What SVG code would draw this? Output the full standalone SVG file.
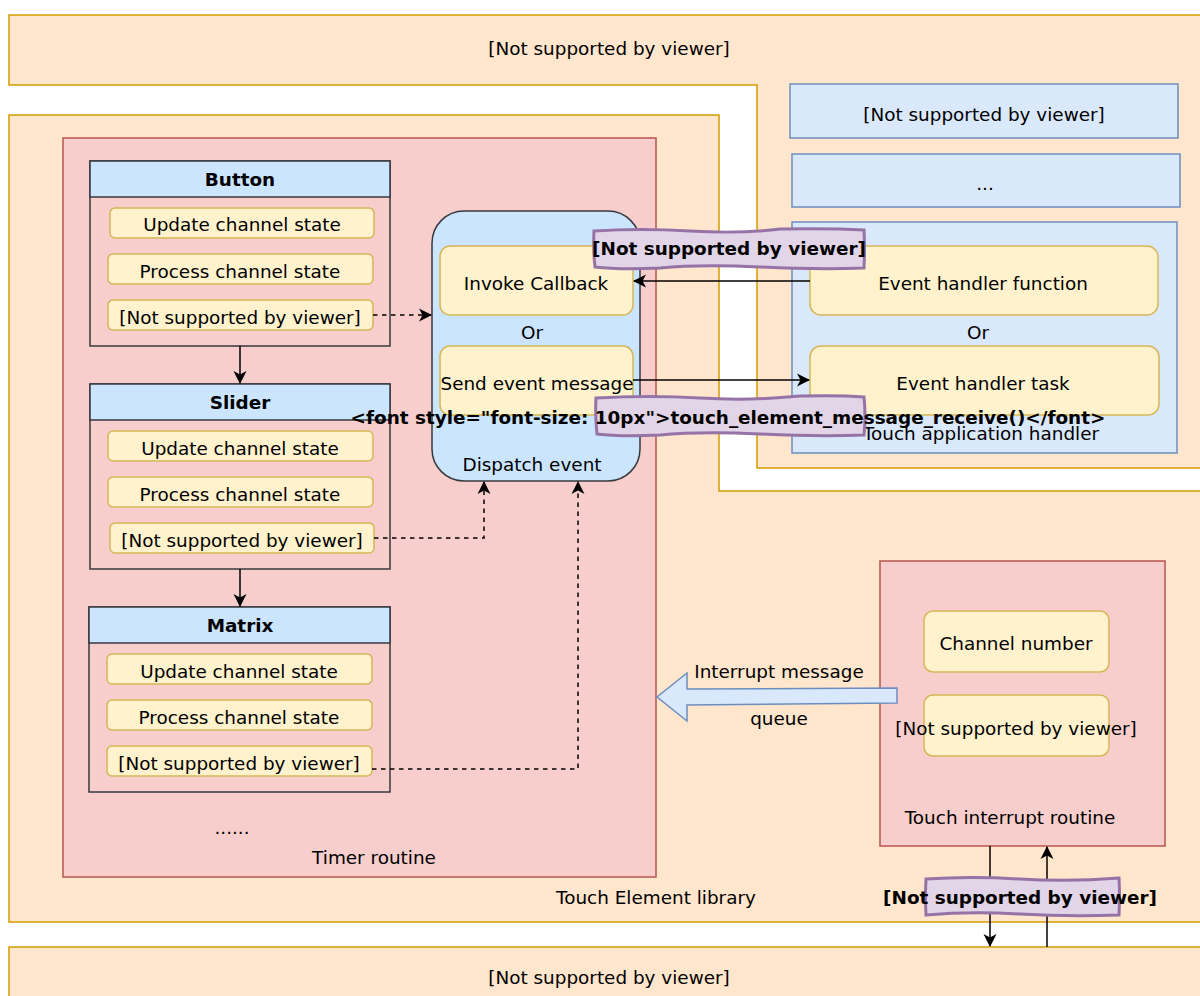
<svg xmlns="http://www.w3.org/2000/svg" width="1200" height="996" viewBox="0 0 1200 996">
<defs>
<style>
text{font-family:"DejaVu Sans","Liberation Sans",sans-serif;font-size:18.4px;fill:#000;text-anchor:middle;dominant-baseline:central}
.b{font-weight:bold}
.org{fill:#ffe6cc;stroke:#d79b00;stroke-width:1.5}
.pink{fill:#f8cecc;stroke:#b85450;stroke-width:1.5}
.lane{fill:none;stroke:#36393d;stroke-width:1.5}
.hdr{fill:#cce5ff;stroke:#36393d;stroke-width:1.5}
.yel{fill:#fff2cc;stroke:#d6b656;stroke-width:1.5}
.lb{fill:#dae8fc;stroke:#6c8ebf;stroke-width:1.5}
.pur{fill:#e1d5e7;stroke:#9673a6;stroke-width:3}
.ln{fill:none;stroke:#000;stroke-width:1.5}
.dash{stroke-dasharray:4.5 4.5}
</style>
<marker id="ah" viewBox="0 0 13 14" refX="12" refY="7" markerWidth="13" markerHeight="14" markerUnits="userSpaceOnUse" orient="auto">
<path d="M0,0.5 L13,7 L0,13.5 L3.5,7 Z" fill="#000"/>
</marker>
</defs>

<g id="app-layer">
<path class="org" d="M9,15 L1202,15 L1202,468 L757,468 L757,85 L9,85 Z"/>
<text x="609" y="48">[Not supported by viewer]</text>
</g>

<g id="touch-element-library">
<path class="org" d="M9,115 L719,115 L719,491 L1202,491 L1202,922 L9,922 Z"/>
<text x="656" y="897">Touch Element library</text>
</g>

<g id="bottom-layer">
<rect class="org" x="9" y="947" width="1193" height="52"/>
<text x="609" y="977">[Not supported by viewer]</text>
</g>

<g id="app-box-1">
<rect class="lb" x="790" y="84" width="388" height="54"/>
<text x="984" y="114">[Not supported by viewer]</text>
</g>
<g id="app-box-2">
<rect class="lb" x="792" y="154" width="388" height="53"/>
<text x="985" y="183">...</text>
</g>
<g id="touch-app-handler">
<rect class="lb" x="792" y="222" width="385" height="231"/>
<text x="981" y="433">Touch application handler</text>
</g>
<g id="event-handler-function">
<rect class="yel" x="810" y="246" width="348" height="69" rx="11"/>
<text x="983" y="283">Event handler function</text>
</g>
<g id="or-right"><text x="978" y="332">Or</text></g>
<g id="event-handler-task">
<rect class="yel" x="810" y="346" width="349" height="69" rx="11"/>
<text x="983" y="383">Event handler task</text>
</g>

<g id="timer-routine">
<rect class="pink" x="63" y="138" width="593" height="739"/>
<text x="374" y="857">Timer routine</text>
<text x="232" y="827">......</text>
</g>

<g id="button">
<rect class="lane" x="90" y="161" width="300" height="185"/>
<rect class="hdr" x="90" y="161" width="300" height="36"/>
<text class="b" x="240" y="179">Button</text>
<rect class="yel" x="110" y="208" width="264" height="30" rx="5"/>
<text x="242" y="224">Update channel state</text>
<rect class="yel" x="108" y="254" width="265" height="30" rx="5"/>
<text x="240" y="271">Process channel state</text>
<rect class="yel" x="108" y="300" width="265" height="30" rx="5"/>
<text x="240" y="317">[Not supported by viewer]</text>
</g>

<g id="slider">
<rect class="lane" x="90" y="384" width="300" height="185"/>
<rect class="hdr" x="90" y="384" width="300" height="36"/>
<text class="b" x="240" y="402">Slider</text>
<rect class="yel" x="108" y="431" width="265" height="30" rx="5"/>
<text x="240" y="448">Update channel state</text>
<rect class="yel" x="108" y="477" width="265" height="30" rx="5"/>
<text x="240" y="494">Process channel state</text>
<rect class="yel" x="110" y="523" width="264" height="30" rx="5"/>
<text x="242" y="540">[Not supported by viewer]</text>
</g>

<g id="matrix">
<rect class="lane" x="89" y="607" width="301" height="185"/>
<rect class="hdr" x="89" y="607" width="301" height="36"/>
<text class="b" x="240" y="625">Matrix</text>
<rect class="yel" x="107" y="654" width="265" height="30" rx="5"/>
<text x="239" y="671">Update channel state</text>
<rect class="yel" x="107" y="700" width="265" height="30" rx="5"/>
<text x="239" y="717">Process channel state</text>
<rect class="yel" x="107" y="746" width="265" height="30" rx="5"/>
<text x="239" y="763">[Not supported by viewer]</text>
</g>

<g id="dispatch-event">
<rect x="432" y="211" width="208" height="270" rx="32" fill="#cce5ff" stroke="#36393d" stroke-width="1.5"/>
<text x="532" y="464">Dispatch event</text>
<rect class="yel" x="440" y="246" width="193" height="69" rx="10"/>
<text x="536" y="283">Invoke Callback</text>
<text x="532" y="332">Or</text>
<rect class="yel" x="440" y="346" width="193" height="69" rx="10"/>
<text x="537" y="383">Send event message</text>
</g>

<g id="touch-interrupt-routine">
<rect class="pink" x="880" y="561" width="285" height="285"/>
<text x="1010" y="817">Touch interrupt routine</text>
<rect class="yel" x="924" y="611" width="185" height="61" rx="9"/>
<text x="1016" y="643">Channel number</text>
<rect class="yel" x="924" y="695" width="185" height="61" rx="9"/>
<text x="1016" y="728">[Not supported by viewer]</text>
</g>

<g id="interrupt-queue">
<path d="M897,688 L687,689 L687,673 L657,697 L687,721 L687,705 L897,703 Z" fill="#dae8fc" stroke="#6c8ebf" stroke-width="1.5"/>
<text x="779" y="671">Interrupt message</text>
<text x="779" y="718">queue</text>
</g>

<g id="connectors">
<path class="ln" d="M240,346 L240,383" marker-end="url(#ah)"/>
<path class="ln" d="M240,569 L240,606" marker-end="url(#ah)"/>
<path class="ln dash" d="M373,315 L431,315" marker-end="url(#ah)"/>
<path class="ln dash" d="M374,538 L484,538 L484,482" marker-end="url(#ah)"/>
<path class="ln dash" d="M372,769 L578,769 L578,482" marker-end="url(#ah)"/>
<path class="ln" d="M810,281 L634,281" marker-end="url(#ah)"/>
<path class="ln" d="M633,380 L809,380" marker-end="url(#ah)"/>
<path class="ln" d="M990,846 L990,946" marker-end="url(#ah)"/>
<path class="ln" d="M1047,947 L1047,847" marker-end="url(#ah)"/>
</g>

<g id="label-callback">
<path class="pur" d="M594,231 Q640,228 690,231 T780,229 Q830,228 864,230 Q865,250 864,268 Q820,270 760,267 T660,268 Q620,270 595,267 Q593,250 594,231 Z"/>
<text class="b" x="729" y="248">[Not supported by viewer]</text>
</g>

<g id="label-message-receive">
<path class="pur" d="M596,398 Q650,395 700,398 T800,396 Q840,395 864,397 Q866,416 864,435 Q820,437 760,434 T660,435 Q620,437 597,434 Q595,416 596,398 Z"/>
<text class="b" x="728" y="417">&lt;font style="font-size: 10px"&gt;touch_element_message_receive()&lt;/font&gt;</text>
</g>

<g id="label-bottom">
<path class="pur" d="M926,879 Q970,876 1020,879 T1119,878 Q1120,897 1119,915 Q1070,917 1020,914 T926,915 Q925,897 926,879 Z"/>
<text class="b" x="1020" y="897">[Not supported by viewer]</text>
</g>
</svg>
